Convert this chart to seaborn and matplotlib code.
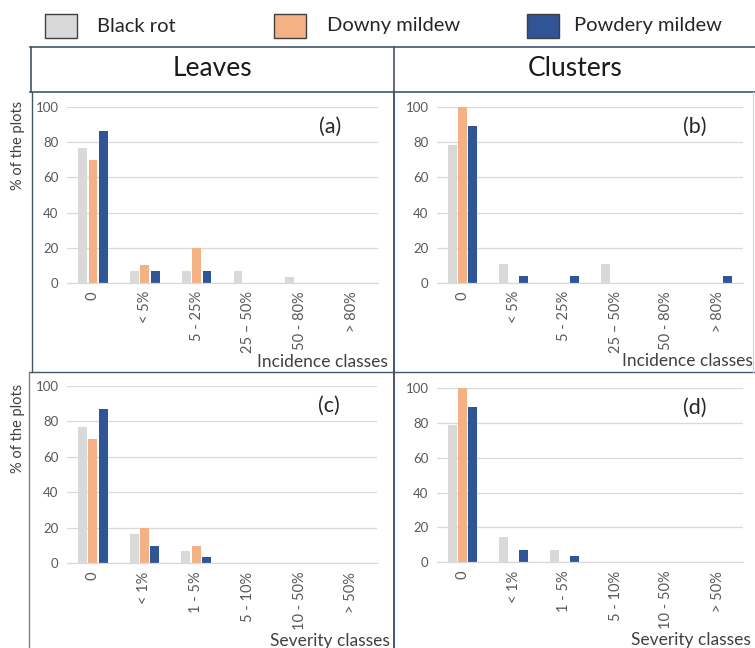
import numpy as np
import pandas as pd
import matplotlib
matplotlib.use("Agg")
import matplotlib.pyplot as plt
from matplotlib.lines import Line2D
from matplotlib.patches import Rectangle
import seaborn as sns

# ---- data -------------------------------------------------------------
diseases = ["Black rot", "Downy mildew", "Powdery mildew"]
colors = ["#d9d9d9", "#f4b183", "#2f5597"]

incidence_classes = ["0", "< 5%", "5 - 25%", "25 – 50%", "50 - 80%", "> 80%"]
severity_classes = ["0", "< 1%", "1 - 5%", "5 - 10%", "10 - 50%", "> 50%"]

# (a) leaves, incidence
leaves_inc_black_rot = [76.7, 6.7, 6.7, 6.7, 3.3, 0]
leaves_inc_downy = [70.0, 10.0, 20.0, 0, 0, 0]
leaves_inc_powdery = [86.7, 6.7, 6.7, 0, 0, 0]

# (b) clusters, incidence
clusters_inc_black_rot = [78.6, 10.7, 0, 10.7, 0, 0]
clusters_inc_downy = [100.0, 0, 0, 0, 0, 0]
clusters_inc_powdery = [89.3, 3.6, 3.6, 0, 0, 3.6]

# (c) leaves, severity
leaves_sev_black_rot = [76.7, 16.7, 6.7, 0, 0, 0]
leaves_sev_downy = [70.0, 20.0, 10.0, 0, 0, 0]
leaves_sev_powdery = [86.7, 10.0, 3.3, 0, 0, 0]

# (d) clusters, severity
clusters_sev_black_rot = [78.6, 14.3, 7.1, 0, 0, 0]
clusters_sev_downy = [100.0, 0, 0, 0, 0, 0]
clusters_sev_powdery = [89.3, 7.1, 3.6, 0, 0, 0]

column_titles = ["Leaves", "Clusters"]
y_title = "% of the plots"
y_ticks = [0, 20, 40, 60, 80, 100]

FONT = "Lato"
plt.rcParams["font.family"] = [FONT, "DejaVu Sans"]

W, H = 755, 648
fig = plt.figure(figsize=(W / 100, H / 100), dpi=100)
fig.patch.set_facecolor("white")


def fx(x):
    return x / W


def fy(y):
    return 1 - y / H


def hline(x0, x1, y, color, lw=1.0):
    fig.add_artist(Line2D([fx(x0), fx(x1)], [fy(y), fy(y)], color=color, lw=lw,
                          transform=fig.transFigure))


def vline(x, y0, y1, color, lw=1.0):
    fig.add_artist(Line2D([fx(x), fx(x)], [fy(y0), fy(y1)], color=color, lw=lw,
                          transform=fig.transFigure))


def long_frame(classes, br, dm, pm):
    rows = []
    for name, vals in zip(diseases, [br, dm, pm]):
        for c, v in zip(classes, vals):
            rows.append({"cls": c, "pct": v, "disease": name})
    return pd.DataFrame(rows)


def panel(box, classes, br, dm, pm, tag, xtitle, xtitle_right, xtitle_y):
    x0, y0, x1, y1 = box
    ax = fig.add_axes([fx(x0), fy(y1), (x1 - x0) / W, (y1 - y0) / H])
    df = long_frame(classes, br, dm, pm)
    sns.barplot(data=df, x="cls", y="pct", hue="disease", order=classes,
                hue_order=diseases, palette=colors, saturation=1, width=0.6,
                gap=0.15, linewidth=0, legend=False, ax=ax)
    ax.set_ylim(0, 100)
    ax.set_yticks(y_ticks)
    ax.set_xlim(-0.5, len(classes) - 0.5)
    ax.yaxis.grid(True, color="#d9d9d9", lw=0.9)
    ax.set_axisbelow(True)
    for s in ["top", "right", "left"]:
        ax.spines[s].set_visible(False)
    ax.spines["bottom"].set_color("#d9d9d9")
    ax.spines["bottom"].set_linewidth(0.9)
    ax.tick_params(axis="both", length=0, colors="#595959")
    ax.tick_params(axis="y", pad=6, labelsize=9.5)
    ax.tick_params(axis="x", pad=6, labelsize=10.5)
    for lab in ax.get_xticklabels():
        lab.set_rotation(90)
        lab.set_ha("center")
        lab.set_va("top")
    ax.set_xlabel("")
    ax.set_ylabel("")
    ax.set_facecolor("none")
    fig.text(fx(x1 - 48), fy(y0 + 20), tag, fontsize=15.5, color="#262626",
             ha="center", va="center")
    fig.text(fx(xtitle_right), fy(xtitle_y), xtitle, fontsize=12.5, color="#404040",
             ha="right", va="center")
    return ax


panel((67, 107.3, 378, 282.7), incidence_classes, leaves_inc_black_rot,
      leaves_inc_downy, leaves_inc_powdery, "(a)", "Incidence classes", 388, 362)
panel((437, 107.3, 743, 282.7), incidence_classes, clusters_inc_black_rot,
      clusters_inc_downy, clusters_inc_powdery, "(b)", "Incidence classes", 753, 361)
panel((67, 385.7, 377, 563.3), severity_classes, leaves_sev_black_rot,
      leaves_sev_downy, leaves_sev_powdery, "(c)", "Severity classes", 390, 641)
panel((437, 388, 743, 562.3), severity_classes, clusters_sev_black_rot,
      clusters_sev_downy, clusters_sev_powdery, "(d)", "Severity classes", 751, 640)

# y axis titles on the left column
fig.text(fx(18), fy(145), y_title, rotation=90, fontsize=10.5, color="#404040",
         ha="center", va="center")
fig.text(fx(18), fy(428), y_title, rotation=90, fontsize=10.5, color="#404040",
         ha="center", va="center")

# legend row
legend_items = [(45, 97), (274, 327), (527, 574)]
for (sx, tx), name, col in zip(legend_items, diseases, colors):
    fig.add_artist(Rectangle((fx(sx), fy(38)), 32 / W, 24 / H, facecolor=col,
                             edgecolor="#404040", lw=1.0, transform=fig.transFigure))
    fig.text(fx(tx), fy(26), name, fontsize=14.5, color="#262626",
             ha="left", va="center")

# header table with column titles
frame_dark = "#44546a"
frame_grey = "#7f7f7f"
hline(30, 755, 46.5, frame_dark, 1.2)
hline(30, 755, 92, frame_dark, 1.2)
vline(30.5, 46.5, 92, frame_dark, 1.2)
vline(394, 46.5, 92, frame_dark, 1.2)
fig.text(fx(212), fy(69), column_titles[0], fontsize=19, color="#1a1a1a",
         ha="center", va="center")
fig.text(fx(575), fy(69), column_titles[1], fontsize=19, color="#1a1a1a",
         ha="center", va="center")

# panel frames
vline(31.5, 92, 371.5, frame_dark, 1.0)
vline(394, 92, 648, frame_dark, 1.4)
hline(30, 755, 371.5, frame_dark, 1.0)
vline(29.5, 371.5, 648, frame_grey, 1.0)
vline(753, 92, 371.5, "#d0d0d0", 0.8)

fig.savefig("out.png", dpi=100)
